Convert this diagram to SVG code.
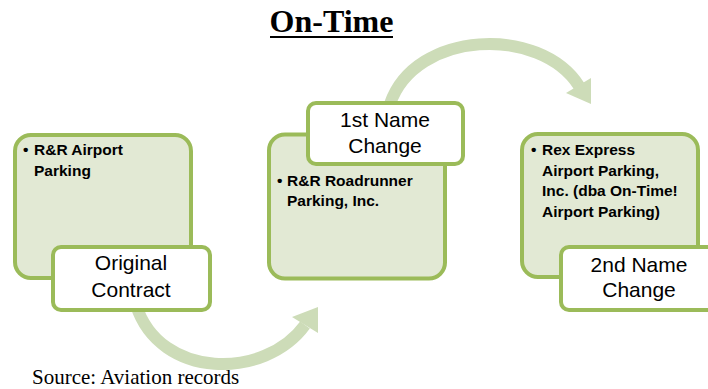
<svg xmlns="http://www.w3.org/2000/svg" width="708" height="389" viewBox="0 0 708 389">
<defs>
<style>
.box{fill:#e2e9d4;stroke:#9bbb59;stroke-width:4}
.lbl{fill:#ffffff;stroke:#9bbb59;stroke-width:4}
.arc{fill:none;stroke:#cddcb8;stroke-width:12}
.head{fill:#cddcb8}
.lt{font-family:"Liberation Sans",Arial,sans-serif;font-size:21px;fill:#000;text-anchor:middle}
.bt{font-family:"Liberation Sans",Arial,sans-serif;font-size:15.5px;font-weight:bold;fill:#000}
.title{font-family:"Liberation Serif","Times New Roman",serif;font-size:32px;font-weight:bold;fill:#000;text-anchor:middle}
.src{font-family:"Liberation Serif","Times New Roman",serif;font-size:21px;fill:#000}
</style>
</defs>
<rect width="708" height="389" fill="#ffffff"/>
<g id="title">
<text class="title" x="331.5" y="32">On-Time</text>
<line x1="270" y1="37" x2="393" y2="37" stroke="#000" stroke-width="2"/>
</g>
<g id="connectors">
<path class="arc" d="M136,305 C160,380 265,380 305,325"/>
<polygon class="head" points="318,307 292,317 318,333"/>
<path class="arc" d="M390,104 C415,30 540,25 579,86"/>
<polygon class="head" points="591,104 566,93 591,78"/>
</g>
<g id="node1">
<rect class="box" x="15" y="135" width="176" height="143" rx="16"/>
<text class="bt" x="23" y="155">•</text>
<text class="bt" x="34" y="155">R&amp;R Airport</text>
<text class="bt" x="34" y="176">Parking</text>
<rect class="lbl" x="53" y="247" width="157" height="63" rx="8"/>
<text class="lt" x="131" y="270">Original</text>
<text class="lt" x="131" y="297">Contract</text>
</g>
<g id="node2">
<rect class="box" x="269" y="134.5" width="176" height="144" rx="16"/>
<text class="bt" x="277" y="186">•</text>
<text class="bt" x="287" y="186">R&amp;R Roadrunner</text>
<text class="bt" x="287" y="206">Parking, Inc.</text>
<rect class="lbl" x="308" y="103" width="155" height="61" rx="8"/>
<text class="lt" x="385" y="127">1st Name</text>
<text class="lt" x="385" y="153">Change</text>
</g>
<g id="node3">
<rect class="box" x="522" y="134" width="176" height="143" rx="16"/>
<text class="bt" x="531" y="155">•</text>
<text class="bt" x="542" y="155">Rex Express</text>
<text class="bt" x="542" y="176">Airport Parking,</text>
<text class="bt" x="542" y="196">Inc. (dba On-Time!</text>
<text class="bt" x="542" y="217">Airport Parking)</text>
<rect class="lbl" x="561" y="247" width="157" height="63" rx="8"/>
<text class="lt" x="639" y="272">2nd Name</text>
<text class="lt" x="639" y="297">Change</text>
</g>
<text class="src" x="32" y="384">Source: Aviation records</text>
</svg>
